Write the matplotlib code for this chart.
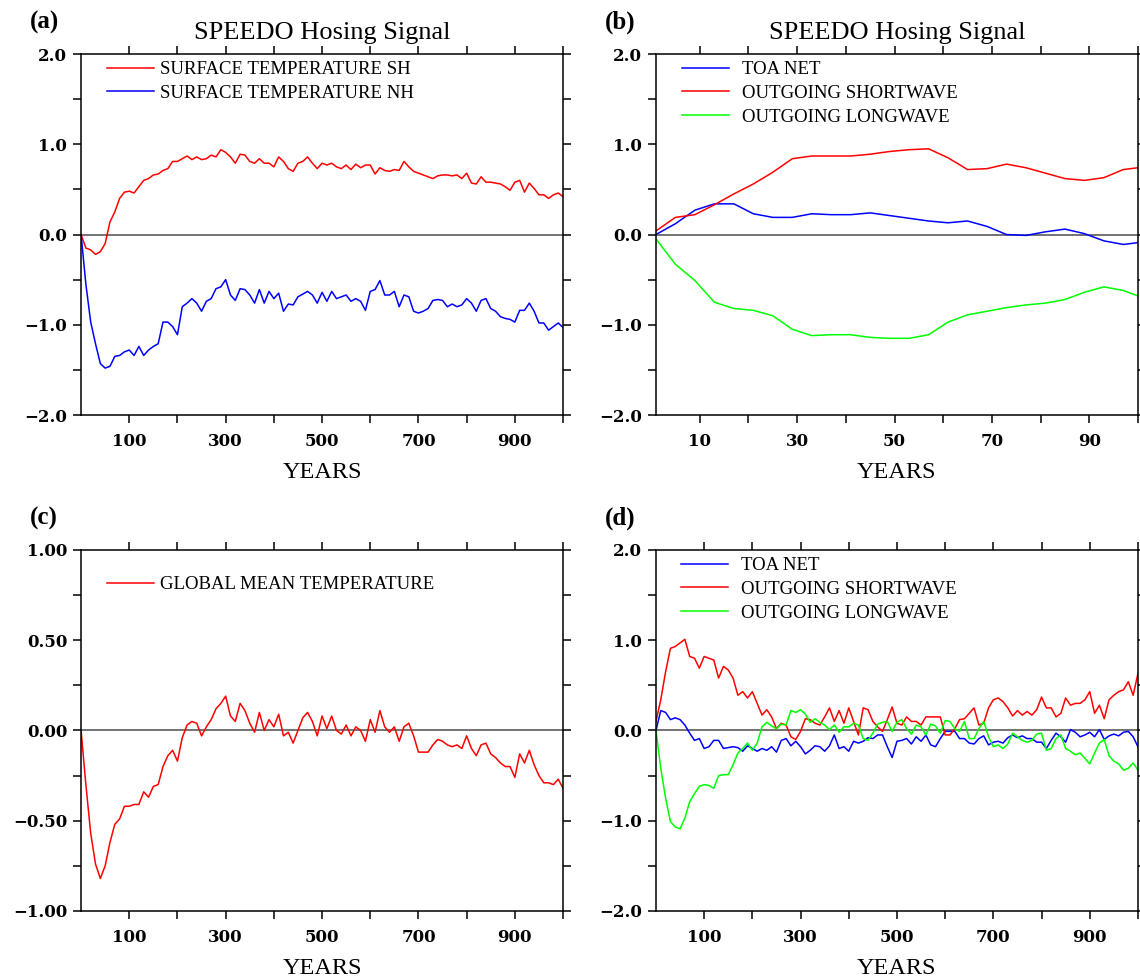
import numpy as np
import matplotlib
matplotlib.use("Agg")
import matplotlib.pyplot as plt

plt.rcParams['font.family'] = ['Liberation Serif', 'DejaVu Serif']

# ---- data -------------------------------------------------------------
years = np.arange(0, 1001, 10)

sh_temp = [0.00, -0.15, -0.17, -0.22, -0.19, -0.10, 0.14, 0.25, 0.40, 0.47,
           0.48, 0.46, 0.53, 0.60, 0.62, 0.66, 0.67, 0.71, 0.73, 0.81,
           0.81, 0.84, 0.87, 0.83, 0.86, 0.83, 0.84, 0.88, 0.86, 0.94,
           0.91, 0.86, 0.79, 0.89, 0.88, 0.81, 0.79, 0.84, 0.79, 0.79,
           0.75, 0.86, 0.81, 0.73, 0.70, 0.79, 0.81, 0.86, 0.79, 0.73,
           0.79, 0.77, 0.79, 0.75, 0.73, 0.77, 0.72, 0.78, 0.74, 0.77,
           0.77, 0.67, 0.74, 0.71, 0.70, 0.72, 0.71, 0.81, 0.75, 0.70,
           0.68, 0.66, 0.64, 0.62, 0.65, 0.66, 0.66, 0.65, 0.66, 0.62,
           0.68, 0.57, 0.56, 0.64, 0.58, 0.58, 0.57, 0.56, 0.53, 0.49,
           0.58, 0.60, 0.47, 0.57, 0.51, 0.44, 0.44, 0.40, 0.44, 0.46,
           0.42]
nh_temp = [0.00, -0.55, -0.97, -1.21, -1.43, -1.48, -1.46, -1.35, -1.34, -1.30,
           -1.28, -1.34, -1.24, -1.34, -1.28, -1.24, -1.21, -0.97, -0.97, -1.02,
           -1.11, -0.80, -0.76, -0.71, -0.76, -0.85, -0.74, -0.71, -0.60, -0.58,
           -0.50, -0.67, -0.73, -0.60, -0.61, -0.67, -0.76, -0.61, -0.76, -0.63,
           -0.71, -0.65, -0.85, -0.77, -0.78, -0.69, -0.66, -0.63, -0.67, -0.76,
           -0.64, -0.74, -0.63, -0.71, -0.69, -0.67, -0.74, -0.71, -0.74, -0.84,
           -0.63, -0.61, -0.51, -0.67, -0.67, -0.63, -0.80, -0.67, -0.69, -0.85,
           -0.87, -0.85, -0.82, -0.73, -0.72, -0.73, -0.80, -0.77, -0.80, -0.78,
           -0.71, -0.76, -0.85, -0.73, -0.71, -0.82, -0.85, -0.91, -0.93, -0.94,
           -0.97, -0.84, -0.84, -0.76, -0.85, -0.98, -0.98, -1.06, -1.02, -0.98,
           -1.03]

# panel (b): first 100 years
years_b = [1, 5, 9, 13, 17, 21, 25, 29, 33, 37, 41, 45, 49, 53, 57, 61, 65,
           69, 73, 77, 81, 85, 89, 93, 97, 100]
toa_b = [0.00, 0.12, 0.27, 0.34, 0.34, 0.23, 0.19, 0.19, 0.23, 0.22, 0.22,
         0.24, 0.21, 0.18, 0.15, 0.13, 0.15, 0.09, 0.00, -0.01, 0.03, 0.06,
         0.01, -0.07, -0.11, -0.09]
sw_b = [0.04, 0.19, 0.22, 0.33, 0.45, 0.56, 0.69, 0.84, 0.87, 0.87, 0.87,
        0.89, 0.92, 0.94, 0.95, 0.85, 0.72, 0.73, 0.78, 0.74, 0.68, 0.62,
        0.60, 0.63, 0.72, 0.74]
lw_b = [-0.05, -0.33, -0.51, -0.75, -0.82, -0.84, -0.90, -1.05, -1.12, -1.11,
        -1.11, -1.14, -1.15, -1.15, -1.11, -0.97, -0.89, -0.85, -0.81, -0.78,
        -0.76, -0.72, -0.64, -0.58, -0.62, -0.68]

global_temp = [0.00, -0.30, -0.57, -0.74, -0.82, -0.75, -0.62, -0.52, -0.49, -0.42,
               -0.42, -0.41, -0.41, -0.34, -0.37, -0.31, -0.30, -0.20, -0.14, -0.11,
               -0.17, -0.04, 0.03, 0.05, 0.04, -0.03, 0.02, 0.06, 0.12, 0.15,
               0.19, 0.08, 0.05, 0.15, 0.11, 0.04, -0.01, 0.10, 0.00, 0.06,
               0.02, 0.09, -0.03, -0.01, -0.07, 0.00, 0.07, 0.10, 0.05, -0.03,
               0.08, 0.01, 0.08, 0.00, -0.02, 0.03, -0.03, 0.02, 0.00, -0.06,
               0.06, -0.01, 0.11, 0.02, -0.01, 0.02, -0.06, 0.02, 0.04, -0.03,
               -0.12, -0.12, -0.12, -0.08, -0.05, -0.06, -0.08, -0.09, -0.08, -0.10,
               -0.03, -0.10, -0.14, -0.08, -0.07, -0.13, -0.15, -0.18, -0.20, -0.20,
               -0.26, -0.13, -0.18, -0.11, -0.19, -0.25, -0.29, -0.29, -0.30, -0.27,
               -0.32]

toa_d = [0.00, 0.22, 0.20, 0.12, 0.14, 0.12, 0.06, -0.03, -0.11, -0.09,
         -0.20, -0.18, -0.11, -0.11, -0.20, -0.19, -0.18, -0.19, -0.23, -0.17,
         -0.20, -0.23, -0.20, -0.22, -0.18, -0.24, -0.11, -0.09, -0.17, -0.12,
         -0.18, -0.26, -0.22, -0.17, -0.18, -0.23, -0.17, -0.05, -0.20, -0.18,
         -0.23, -0.12, -0.14, -0.12, -0.08, -0.09, -0.05, -0.05, -0.18, -0.30,
         -0.12, -0.11, -0.09, -0.15, -0.07, -0.12, -0.05, -0.16, -0.18, -0.09,
         -0.01, -0.01, -0.01, -0.09, -0.09, -0.14, -0.15, -0.09, -0.06, -0.16,
         -0.13, -0.12, -0.14, -0.08, -0.05, -0.08, -0.06, -0.09, -0.09, -0.13,
         -0.13, -0.20, -0.11, -0.03, -0.07, -0.13, 0.01, -0.02, -0.07, -0.05,
         -0.02, -0.07, 0.01, -0.10, -0.06, -0.04, -0.06, -0.02, -0.01, -0.07,
         -0.18]
sw_d = [0.10, 0.34, 0.65, 0.91, 0.93, 0.97, 1.01, 0.82, 0.80, 0.69,
        0.82, 0.80, 0.78, 0.58, 0.71, 0.67, 0.58, 0.39, 0.43, 0.36,
        0.43, 0.30, 0.17, 0.23, 0.15, 0.02, 0.08, 0.06, -0.07, -0.10,
        -0.01, 0.13, 0.12, 0.08, 0.06, 0.15, 0.25, 0.10, 0.22, 0.08,
        0.25, 0.10, -0.05, 0.25, 0.23, 0.10, 0.04, -0.01, 0.12, 0.26,
        0.08, 0.06, 0.15, 0.10, 0.10, 0.06, 0.15, 0.15, 0.15, 0.15,
        -0.05, -0.05, 0.02, 0.12, 0.13, 0.19, 0.25, 0.06, 0.08, 0.25,
        0.34, 0.36, 0.32, 0.25, 0.16, 0.22, 0.17, 0.21, 0.17, 0.23,
        0.37, 0.25, 0.25, 0.15, 0.19, 0.36, 0.28, 0.30, 0.30, 0.34,
        0.43, 0.19, 0.28, 0.13, 0.34, 0.39, 0.43, 0.45, 0.54, 0.39,
        0.63]
lw_d = [0.00, -0.42, -0.75, -1.01, -1.07, -1.09, -0.97, -0.79, -0.70, -0.62,
        -0.60, -0.61, -0.64, -0.50, -0.49, -0.49, -0.38, -0.25, -0.20, -0.14,
        -0.22, -0.14, 0.04, 0.09, 0.05, 0.02, 0.07, 0.06, 0.22, 0.20,
        0.23, 0.18, 0.09, 0.13, 0.09, 0.06, 0.01, 0.06, -0.02, 0.04,
        0.04, 0.08, 0.06, -0.09, -0.11, -0.03, 0.07, 0.09, 0.10, -0.01,
        0.09, 0.12, 0.02, -0.04, 0.06, 0.04, -0.05, 0.07, 0.05, -0.03,
        0.11, 0.10, 0.02, -0.01, 0.10, -0.09, -0.09, 0.02, 0.10, -0.07,
        -0.18, -0.16, -0.20, -0.15, -0.03, -0.07, -0.11, -0.13, -0.11, -0.04,
        -0.03, -0.22, -0.20, -0.09, -0.05, -0.20, -0.23, -0.27, -0.25, -0.31,
        -0.37, -0.25, -0.14, -0.10, -0.28, -0.34, -0.37, -0.44, -0.42, -0.36,
        -0.44]

# ticks
xticks_long = [100, 200, 300, 400, 500, 600, 700, 800, 900, 1000]
xlabels_long = ['100', '', '300', '', '500', '', '700', '', '900', '']
xticks_short = [10, 20, 30, 40, 50, 60, 70, 80, 90, 100]
xlabels_short = ['10', '', '30', '', '50', '', '70', '', '90', '']
yticks_2 = [-2.0, -1.5, -1.0, -0.5, 0.0, 0.5, 1.0, 1.5, 2.0]
ylabels_2 = ['\u22122.0', '', '\u22121.0', '', '0.0', '', '1.0', '', '2.0']
yticks_1 = [-1.0, -0.75, -0.5, -0.25, 0.0, 0.25, 0.5, 0.75, 1.0]
ylabels_1 = ['\u22121.00', '', '\u22120.50', '', '0.00', '', '0.50', '', '1.00']

RED = '#ff0000'
BLUE = '#0000ff'
GREEN = '#00ff00'


def style_axes(ax, xticks, xlabels, yticks, ylabels, xlim, ylim):
    ax.set_xlim(*xlim)
    ax.set_ylim(*ylim)
    ax.set_xticks(xticks)
    ax.set_xticklabels(xlabels)
    ax.set_yticks(yticks)
    ax.set_yticklabels(ylabels)
    ax.tick_params(direction='out', length=6, width=1.1, top=True, right=True,
                   labelsize=12)
    ax.tick_params(axis='x', pad=7)
    ax.tick_params(axis='y', pad=4)
    for lab in ax.get_xticklabels() + ax.get_yticklabels():
        lab.set_family('DejaVu Serif')
        lab.set_fontweight('bold')
    for s in ax.spines.values():
        s.set_linewidth(1.1)
    ax.axhline(0, color='#4d4d4d', lw=1.1, zorder=1)
    ax.set_xlabel('YEARS', fontsize=17.5)
    ax.xaxis.set_label_coords(0.5, -0.13)


fig = plt.figure(figsize=(11.4, 9.77), dpi=100)
ax_a = fig.add_axes([0.0711, 0.5752, 0.4228, 0.3695])
ax_b = fig.add_axes([0.5754, 0.5752, 0.4228, 0.3695])
ax_c = fig.add_axes([0.0711, 0.0676, 0.4228, 0.3695])
ax_d = fig.add_axes([0.5754, 0.0676, 0.4228, 0.3695])

leg_kw = dict(loc='upper left', frameon=False, fontsize=13.5, borderpad=0,
              borderaxespad=0, handlelength=2.5, labelspacing=0.35)

# (a)
ax_a.plot(years, sh_temp, color=RED, lw=1.1, label='SURFACE TEMPERATURE SH')
ax_a.plot(years, nh_temp, color=BLUE, lw=1.1, label='SURFACE TEMPERATURE NH')
style_axes(ax_a, xticks_long, xlabels_long, yticks_2, ylabels_2, (0, 1000), (-2, 2))
ax_a.set_title('SPEEDO Hosing Signal', fontsize=19, pad=11)
ax_a.legend(bbox_to_anchor=(0.054, 0.98), handletextpad=0.3, **leg_kw)

# (b)
ax_b.plot(years_b, toa_b, color=BLUE, lw=1.1, label='TOA NET')
ax_b.plot(years_b, sw_b, color=RED, lw=1.1, label='OUTGOING SHORTWAVE')
ax_b.plot(years_b, lw_b, color=GREEN, lw=1.1, label='OUTGOING LONGWAVE')
style_axes(ax_b, xticks_short, xlabels_short, yticks_2, ylabels_2, (1, 100), (-2, 2))
ax_b.set_title('SPEEDO Hosing Signal', fontsize=19, pad=11)
ax_b.legend(bbox_to_anchor=(0.054, 0.98), handletextpad=0.7, **leg_kw)

# (c)
ax_c.plot(years, global_temp, color=RED, lw=1.1, label='GLOBAL MEAN TEMPERATURE')
style_axes(ax_c, xticks_long, xlabels_long, yticks_1, ylabels_1, (0, 1000), (-1, 1))
ax_c.legend(bbox_to_anchor=(0.054, 0.928), handletextpad=0.3, **leg_kw)

# (d)
ax_d.plot(years, toa_d, color=BLUE, lw=1.1, label='TOA NET')
ax_d.plot(years, sw_d, color=RED, lw=1.1, label='OUTGOING SHORTWAVE')
ax_d.plot(years, lw_d, color=GREEN, lw=1.1, label='OUTGOING LONGWAVE')
style_axes(ax_d, xticks_long, xlabels_long, yticks_2, ylabels_2, (0, 1000), (-2, 2))
ax_d.legend(bbox_to_anchor=(0.052, 0.98), handletextpad=0.7, **leg_kw)

# panel letters
for x, y, s in [(0.026, 0.971, '(a)'), (0.531, 0.971, '(b)'),
                (0.026, 0.463, '(c)'), (0.531, 0.463, '(d)')]:
    fig.text(x, y, s, fontsize=18, fontweight='bold', va='baseline')

fig.savefig('out.png', dpi=100)
